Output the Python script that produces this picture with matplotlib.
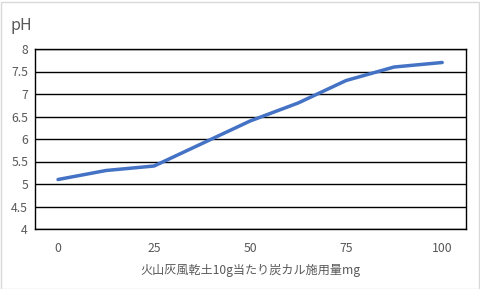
import matplotlib
matplotlib.use('Agg')
import matplotlib.pyplot as plt
from matplotlib.patches import Rectangle

plt.rcParams['font.family'] = ['Noto Sans CJK JP', 'DejaVu Sans']

# data
dose = [0, 12.5, 25, 37.5, 50, 62.5, 75, 87.5, 100]
ph = [5.1, 5.3, 5.4, 5.9, 6.4, 6.8, 7.3, 7.6, 7.7]
xticks = [0, 25, 50, 75, 100]
yticks = [4, 4.5, 5, 5.5, 6, 6.5, 7, 7.5, 8]
ylabels = ['4', '4.5', '5', '5.5', '6', '6.5', '7', '7.5', '8']

grey = '#595959'

fig = plt.figure(figsize=(4.8, 2.89), dpi=100)
ax = fig.add_axes([35/480, 60/289, 431/480, 180/289])

ax.plot(dose, ph, color='#4472C4', linewidth=2.5, solid_capstyle='round', zorder=3)

ax.set_xlim(-6, 106.2)
ax.set_ylim(4, 8)
ax.set_yticks(yticks)
ax.set_yticklabels(ylabels)
ax.set_xticks(xticks)
ax.yaxis.grid(True, color='black', linewidth=1.0)
ax.set_axisbelow(True)
for s in ax.spines.values():
    s.set_color('black')
    s.set_linewidth(1.0)
ax.tick_params(axis='both', length=0, labelsize=8.8, labelcolor=grey)
ax.tick_params(axis='x', pad=9)
ax.tick_params(axis='y', pad=5)

fig.text(10/480, 1 - 26/289, 'pH', fontsize=11.5, color=grey, va='center', ha='left')
fig.text(250/480, 1 - 270/289, '火山灰風乾土10g当たり炭カル施用量mg',
         fontsize=8.7, color=grey, ha='center', va='center')

# faint outer chart border
fig.patches.append(Rectangle((0.5/480, 0.5/289), 478/480, 287/289, transform=fig.transFigure,
                             fill=False, edgecolor='#d9d9d9', linewidth=1.0))

fig.savefig('out.png', dpi=100)
